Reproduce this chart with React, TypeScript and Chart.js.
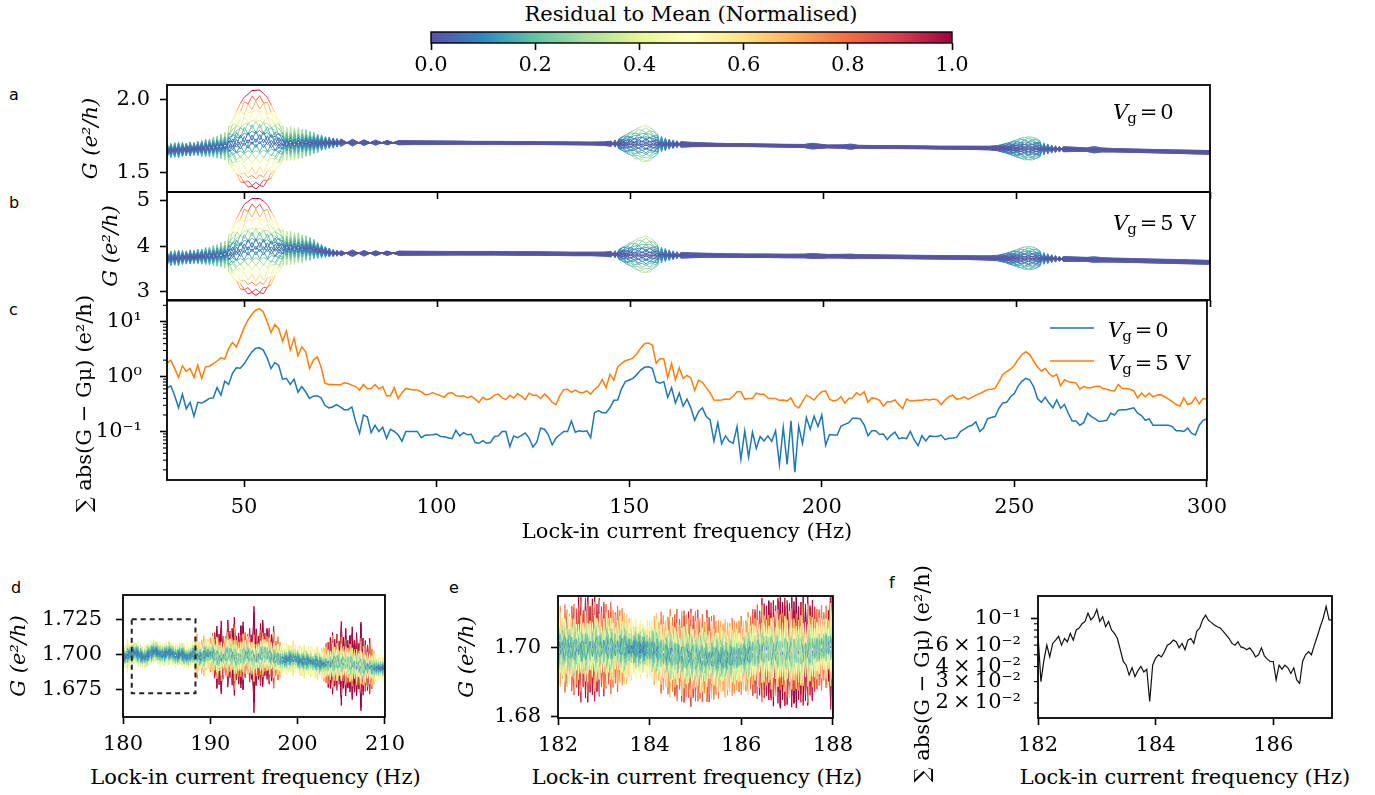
import React, { useEffect, useRef } from 'react';
import { Chart, registerables } from 'chart.js';
Chart.register(...registerables);

const SERIF = "'DejaVu Serif', serif";
const SANS = "'DejaVu Sans', sans-serif";
const FS = 21;

// ---------------- DATA ----------------
// panel c: summed absolute residual, 1 Hz grid from 30 Hz
const FREQ_C_START = 30;
const FREQ_C_STEP = 1;
const SUM_V0 = [
  0.62,0.68,0.45,0.27,0.48,0.26,0.34,0.19,0.34,0.33,
  0.36,0.40,0.41,0.63,0.46,0.83,0.72,1.15,1.45,1.42,
  1.7,2.2,2.8,3.3,3.35,3.05,2.2,1.4,1.8,1.6,
  0.9,0.93,0.72,0.9,0.52,0.66,0.53,0.40,0.44,0.45,
  0.41,0.30,0.27,0.28,0.31,0.28,0.25,0.25,0.28,0.15,
  0.093,0.20,0.185,0.095,0.13,0.10,0.12,0.075,0.11,0.10,
  0.087,0.066,0.10,0.10,0.10,0.10,0.077,0.085,0.086,0.087,
  0.09,0.081,0.08,0.077,0.074,0.105,0.083,0.095,0.087,0.089,
  0.063,0.061,0.068,0.061,0.063,0.081,0.083,0.1,0.1,0.053,
  0.083,0.077,0.084,0.094,0.076,0.052,0.064,0.115,0.11,0.087,
  0.057,0.076,0.087,0.10,0.1,0.155,0.097,0.103,0.10,0.103,
  0.077,0.22,0.24,0.22,0.22,0.27,0.37,0.375,0.6,0.81,
  0.87,0.93,1.1,1.32,1.48,1.52,1.42,0.81,0.76,0.81,
  0.42,0.63,0.33,0.5,0.29,0.39,0.27,0.16,0.23,0.27,
  0.187,0.163,0.067,0.144,0.06,0.083,0.066,0.061,0.123,0.031,
  0.103,0.034,0.097,0.049,0.081,0.067,0.083,0.066,0.103,0.025,
  0.118,0.025,0.156,0.018,0.126,0.06,0.18,0.11,0.19,0.123,
  0.2,0.056,0.088,0.086,0.086,0.126,0.135,0.145,0.175,0.175,
  0.17,0.132,0.084,0.103,0.103,0.088,0.09,0.071,0.086,0.097,
  0.074,0.077,0.074,0.1,0.07,0.055,0.084,0.067,0.083,0.081,
  0.081,0.086,0.071,0.075,0.076,0.078,0.1,0.11,0.123,0.13,
  0.15,0.10,0.115,0.17,0.18,0.187,0.265,0.33,0.34,0.43,
  0.49,0.68,0.83,0.93,0.87,0.66,0.40,0.34,0.42,0.33,
  0.27,0.375,0.265,0.31,0.215,0.155,0.155,0.13,0.145,0.215,
  0.187,0.17,0.152,0.155,0.16,0.215,0.2,0.245,0.25,0.25,
  0.26,0.27,0.215,0.195,0.16,0.17,0.13,0.13,0.13,0.13,
  0.13,0.123,0.103,0.103,0.1,0.115,0.093,0.086,0.13,0.16,
  0.17
];
const SUM_V5 = [
  1.75,2.0,1.4,0.97,1.58,1.26,1.41,0.97,1.62,0.93,
  1.51,1.55,1.72,1.93,2.2,2.1,3.27,4.2,3.5,5.1,
  7.8,10.7,13.6,16.3,17.4,15.2,10,6.4,8.9,7.5,
  4.45,6.8,3.05,5.0,2.4,3.5,2.85,1.41,2.0,2.3,
  1.5,0.76,0.72,0.72,0.71,0.71,0.77,0.75,0.70,0.66,
  0.57,0.72,0.60,0.61,0.72,0.60,0.66,0.45,0.45,0.63,
  0.40,0.51,0.61,0.59,0.57,0.57,0.53,0.47,0.48,0.51,
  0.48,0.45,0.42,0.50,0.51,0.45,0.44,0.45,0.41,0.44,
  0.39,0.34,0.42,0.38,0.40,0.46,0.48,0.41,0.38,0.46,
  0.41,0.49,0.44,0.38,0.50,0.46,0.46,0.40,0.48,0.42,
  0.34,0.31,0.45,0.58,0.59,0.52,0.57,0.52,0.51,0.55,
  0.48,0.59,0.66,0.89,0.63,1.1,0.87,1.5,1.75,1.95,
  2.05,2.2,2.65,3.35,4.0,4.1,3.75,1.75,2.15,2.1,
  0.96,1.75,0.87,1.45,0.93,1.05,0.95,0.56,0.86,0.79,
  0.63,0.51,0.375,0.37,0.375,0.39,0.385,0.44,0.53,0.53,
  0.39,0.40,0.40,0.50,0.48,0.48,0.41,0.40,0.40,0.37,
  0.375,0.36,0.41,0.30,0.27,0.35,0.46,0.42,0.375,0.46,
  0.53,0.55,0.39,0.36,0.375,0.43,0.33,0.40,0.41,0.51,
  0.46,0.53,0.34,0.41,0.40,0.37,0.29,0.35,0.35,0.375,
  0.31,0.26,0.39,0.36,0.365,0.37,0.37,0.385,0.375,0.39,
  0.375,0.31,0.375,0.43,0.46,0.39,0.40,0.43,0.39,0.42,
  0.46,0.49,0.53,0.58,0.59,0.61,0.81,1.1,1.23,1.37,
  1.62,2.06,2.54,2.85,2.5,1.93,1.5,1.27,1.41,1.14,
  1.0,1.1,0.68,0.88,0.81,0.79,0.77,0.59,0.66,0.63,
  0.63,0.66,0.67,0.61,0.59,0.56,0.55,0.72,0.61,0.61,
  0.59,0.55,0.41,0.5,0.43,0.5,0.43,0.46,0.47,0.43,
  0.39,0.35,0.31,0.29,0.41,0.31,0.33,0.42,0.32,0.40,
  0.39
];

// panels a, b: mean conductance and two deviation profiles at sampled frequencies
const FREQ_AB = [
  30,31,32,33,34,35,36,37,38,39,40,41,42,43,44,45,46,47,48,49,50,51,52,53,54,55,56,57,58,59,60,61,62,63,64,65,66,67,68,69,70,71,72,73,74,75,
  78,81,84,87,90,95,100,105,110,115,120,125,130,135,140,143,
  145,146,147,148,149,150,151,152,153,154,155,156,157,158,159,160,161,162,163,
  166,170,175,180,185,190,195,197,199,201,205,207,209,215,220,225,230,236,240,243,
  245,246,247,248,249,250,251,252,253,254,255,256,257,258,259,260,261,262,
  265,268,270,272,275,280,285,290,295,300
];
const MEAN_A = [
  1.648,1.650,1.652,1.653,1.655,1.657,1.658,1.660,1.662,1.664,1.666,1.668,1.670,1.673,1.676,1.680,1.685,1.690,1.697,1.705,
  1.712,1.718,1.722,1.725,1.725,1.722,1.718,1.712,1.706,1.700,1.698,1.697,1.697,1.697,1.698,1.698,1.699,1.699,1.700,1.700,
  1.701,1.701,1.702,1.702,1.702,1.703,
  1.703,1.703,1.703,1.703,1.703,1.703,1.703,1.703,1.702,1.702,1.701,1.700,1.699,1.698,1.697,1.696,
  1.696,1.696,1.695,1.695,1.695,1.695,1.694,1.694,1.694,1.694,1.694,1.693,1.693,1.693,1.692,1.692,1.692,1.692,1.691,
  1.690,1.689,1.687,1.686,1.684,1.682,1.680,1.679,1.678,1.677,1.676,1.675,1.675,1.673,1.672,1.671,1.669,1.668,1.667,1.666,
  1.665,1.665,1.664,1.664,1.663,1.663,1.663,1.662,1.662,1.662,1.661,1.661,1.660,1.660,1.659,1.659,1.658,1.658,
  1.657,1.655,1.654,1.653,1.651,1.648,1.645,1.642,1.639,1.636
];
const DEV_A = [
  0.058,-0.05,0.052,-0.055,0.05,-0.045,0.05,-0.045,0.05,-0.055,0.06,-0.062,0.068,-0.075,0.085,-0.095,0.13,0.17,0.22,0.27,
  0.30,0.32,0.335,0.34,0.335,0.32,0.29,0.25,0.20,0.16,0.12,-0.115,0.12,-0.115,0.11,-0.10,0.095,-0.085,0.075,-0.065,
  0.055,-0.045,0.04,-0.035,0.03,-0.027,
  0.024,-0.02,0.018,-0.016,0.015,0.013,0.012,0.011,0.01,0.01,0.01,0.01,0.01,0.01,0.01,0.012,
  0.018,-0.025,0.035,0.05,0.065,0.08,0.095,0.11,0.12,0.125,0.115,0.095,0.07,-0.055,0.045,-0.035,0.03,-0.025,0.02,
  0.015,0.012,0.01,0.01,0.01,0.01,0.011,0.02,0.015,0.01,0.012,0.018,0.01,0.01,0.01,0.01,0.01,0.011,0.012,0.013,
  0.018,0.025,0.032,0.04,0.05,0.06,0.07,0.076,0.08,0.078,0.07,0.055,-0.042,0.035,-0.028,0.024,-0.02,0.018,
  0.015,0.012,0.022,0.014,0.012,0.012,0.012,0.012,0.013,0.013
];
const DEV_A2 = [
  0.01,-0.01,0.01,-0.01,0.01,-0.01,0.01,-0.01,0.015,-0.015,
  0.02,-0.025,0.03,-0.035,0.04,-0.045,0.05,-0.05,0.055,-0.055,
  0.06,-0.06,0.06,-0.06,0.06,-0.06,0.06,-0.055,0.05,-0.05,
  0.045,-0.04,0.035,-0.03,0.03,-0.025,0.02,-0.02,0.015,-0.012,
  0.01,-0.008,0.006,-0.005,0.004,-0.003,
  0.003,-0.003,0,0,0,0,0,0,0,0,0,0,0,0,0,0.003,
  -0.005,0.008,-0.012,0.015,-0.018,0.02,-0.022,0.022,-0.022,0.022,-0.02,0.018,-0.015,0.012,-0.01,0.008,-0.006,0.004,-0.003,
  0,0,0,0,0,0,0,0.006,0,0,0,0.005,0,0,0,0,0,0,0,0,
  0.004,-0.006,0.008,-0.01,0.012,-0.014,0.015,-0.015,0.015,-0.015,0.014,-0.012,0.01,-0.008,0.006,-0.005,0.004,-0.003,
  0,0,0.006,0,0,0,0,0,0,0
];
const MEAN_B = [
  3.73,3.735,3.74,3.745,3.75,3.755,3.76,3.765,3.77,3.775,3.78,3.785,3.79,3.80,3.81,3.82,
  3.84,3.86,3.89,3.92,3.95,3.97,3.98,3.985,3.98,3.975,3.97,3.965,3.96,3.96,
  3.96,3.96,3.96,3.958,3.955,3.952,3.95,3.945,3.93,3.91,3.89,3.875,3.86,3.85,3.845,3.845,
  3.845,3.845,3.845,3.845,3.845,3.845,3.845,3.845,3.845,3.845,3.84,3.84,3.835,3.83,3.83,3.825,
  3.825,3.82,3.82,3.82,3.815,3.815,3.815,3.81,3.81,3.81,3.81,3.81,3.805,3.805,3.805,3.80,3.80,3.80,3.80,
  3.80,3.80,3.795,3.79,3.79,3.785,3.785,3.785,3.78,3.78,3.78,3.775,3.775,3.77,3.765,3.76,3.755,3.75,3.745,3.74,
  3.74,3.74,3.738,3.736,3.735,3.735,3.735,3.735,3.735,3.735,3.73,3.73,3.73,3.728,3.726,3.724,3.722,3.72,
  3.715,3.71,3.705,3.70,3.695,3.685,3.675,3.665,3.655,3.645
];
const DEV_B = [
  0.19,-0.17,0.17,-0.18,0.16,-0.15,0.16,-0.15,0.16,-0.17,0.19,-0.2,0.22,-0.24,0.27,-0.3,
  0.42,0.55,0.70,0.86,0.96,1.02,1.06,1.07,1.06,1.02,0.93,0.80,0.64,0.51,
  0.40,-0.38,0.38,-0.36,0.34,-0.31,0.28,-0.26,0.22,-0.18,0.15,-0.12,0.10,-0.08,0.07,-0.06,
  0.075,-0.065,0.058,-0.052,0.048,0.045,0.042,0.04,0.04,0.04,0.04,0.04,0.04,0.04,0.04,0.045,
  0.06,-0.08,0.11,0.16,0.21,0.26,0.31,0.36,0.39,0.41,0.38,0.31,0.23,-0.18,0.15,-0.12,0.10,-0.08,0.065,
  0.055,0.045,0.04,0.04,0.04,0.04,0.042,0.055,0.05,0.04,0.042,0.05,0.04,0.04,0.04,0.04,0.04,0.042,0.045,0.05,
  0.06,0.08,0.10,0.13,0.16,0.19,0.22,0.245,0.255,0.25,0.22,0.17,-0.13,0.11,-0.09,0.075,-0.06,0.055,
  0.05,0.045,0.06,0.05,0.045,0.045,0.045,0.045,0.045,0.045
];
const DEV_B2 = [
  0.03,-0.03,0.03,-0.03,0.03,-0.03,0.03,-0.03,0.05,-0.05,
  0.065,-0.08,0.1,-0.11,0.13,-0.14,0.16,-0.16,0.18,-0.18,
  0.19,-0.19,0.19,-0.19,0.19,-0.19,0.19,-0.18,0.16,-0.16,
  0.14,-0.13,0.11,-0.1,0.1,-0.08,0.065,-0.065,0.05,-0.04,
  0.03,-0.025,0.02,-0.016,0.013,-0.01,
  0.01,-0.01,0,0,0,0,0,0,0,0,0,0,0,0,0,0.01,
  -0.016,0.026,-0.04,0.05,-0.058,0.065,-0.07,0.07,-0.07,0.07,-0.065,0.058,-0.05,0.04,-0.032,0.026,-0.02,0.013,-0.01,
  0,0,0,0,0,0,0,0.02,0,0,0,0.016,0,0,0,0,0,0,0,0,
  0.013,-0.02,0.026,-0.032,0.04,-0.045,0.048,-0.048,0.048,-0.048,0.045,-0.04,0.032,-0.026,0.02,-0.016,0.013,-0.01,
  0,0,0.02,0,0,0,0,0,0,0
];
// relative weights of each measured curve on the two deviation profiles
const LINE_W = [0.02,-0.04,0.08,-0.1,0.15,-0.17,0.22,-0.25,0.3,-0.33,0.38,-0.42,0.47,-0.52,0.58,-0.63,0.7,-0.76,0.84,-0.9,1.0,-0.97];
const LINE_V = [0.45,-0.3,-0.5,0.35,0.2,-0.45,0.5,-0.15,-0.4,0.3,0.1,-0.35,0.45,-0.25,-0.1,0.4,-0.45,0.2,0.3,-0.2,0.05,0.15];

// panel d: 0.25 Hz grid from 180 Hz
const FREQ_D_START = 180;
const FREQ_D_STEP = 0.25;
const MEAN_D = [
  1.697,1.698,1.699,1.700,1.700,
  1.701,1.701,1.700,1.699,1.698,1.698,1.699,1.700,1.701,1.702,1.702,1.701,1.700,1.700,1.700,1.701,1.701,1.701,1.700,1.699,1.699,1.700,1.700,1.699,1.698,1.698,1.699,1.700,
  1.700,1.699,1.698,1.698,1.699,1.700,1.700,
  1.700,1.700,1.699,1.698,1.697,1.697,1.698,1.699,1.700,1.700,1.699,1.698,1.697,1.697,1.698,1.699,1.700,1.700,1.699,1.698,1.697,1.697,1.698,1.699,1.700,1.700,1.700,1.699,1.698,1.697,1.697,1.697,1.696,
  1.696,1.696,1.696,1.697,1.697,1.697,1.697,1.696,1.695,1.695,1.695,1.695,1.695,1.695,1.694,1.694,1.694,1.693,1.693,1.693,
  1.693,1.693,1.693,1.694,1.694,1.694,1.694,1.694,1.694,1.694,1.693,1.693,1.693,1.692,1.692,1.692,1.692,1.691,1.691,1.691,1.691,1.690,1.690,1.690,
  1.690,1.690,1.690,1.691
];
const DEV_D = [
  0.010,-0.008,0.012,-0.009,0.010,
  -0.008,0.007,-0.009,0.008,-0.007,0.009,-0.008,0.007,-0.008,0.009,-0.007,0.008,-0.009,0.007,-0.008,0.008,-0.009,0.007,-0.008,0.009,-0.007,0.008,-0.008,0.009,-0.007,0.010,-0.008,0.009,
  -0.012,0.016,-0.010,0.012,-0.014,0.011,-0.010,
  0.012,-0.014,0.016,-0.022,0.018,-0.026,0.015,-0.012,0.024,-0.016,0.020,-0.028,0.014,-0.018,0.022,-0.024,0.016,-0.013,0.019,-0.015,0.038,-0.020,0.015,-0.022,0.024,-0.014,0.018,-0.020,0.016,-0.022,0.012,-0.015,0.012,
  -0.010,0.009,-0.011,0.010,-0.009,0.012,-0.010,0.009,-0.011,0.010,-0.012,0.009,-0.010,0.011,-0.009,0.010,-0.012,0.010,-0.011,0.012,
  -0.014,0.016,-0.018,0.022,-0.016,0.020,-0.014,0.030,-0.018,0.024,-0.016,0.020,-0.026,0.018,-0.022,0.016,-0.032,0.020,-0.018,0.016,-0.020,0.014,-0.012,0.010,
  -0.009,0.008,-0.009,0.008
];
const DEV_D2 = [
  0.004,0.005,-0.004,-0.005,0.004,
  0.005,-0.004,-0.005,0.004,0.006,-0.005,0.004,0.005,-0.006,-0.004,0.005,0.004,-0.005,0.006,-0.004,-0.005,0.005,0.004,-0.006,0.005,-0.004,-0.005,0.006,0.004,-0.005,0.004,-0.006,0.005,
  0.006,-0.008,0.007,0.006,-0.009,-0.006,0.008,
  -0.008,0.010,0.009,-0.012,-0.010,0.011,-0.009,0.013,0.010,-0.011,-0.012,0.009,0.014,-0.010,0.012,-0.013,-0.009,0.011,0.010,-0.012,-0.014,0.012,-0.010,0.011,0.009,-0.013,0.010,-0.009,-0.011,0.012,0.008,-0.010,0.009,
  -0.006,0.005,0.006,-0.005,-0.006,0.007,-0.005,0.006,0.005,-0.006,-0.005,0.007,0.006,-0.005,0.006,-0.007,-0.005,0.006,0.005,-0.006,
  0.008,-0.010,0.011,-0.009,-0.012,0.010,0.013,-0.011,-0.010,0.012,-0.013,0.011,0.010,-0.012,0.014,-0.010,-0.011,0.012,0.009,-0.010,0.008,-0.009,0.007,-0.006,
  0.005,-0.004,0.005,-0.004
];
const BOX_D_X = [181, 188.3, 188.3, 181, 181];
const BOX_D_Y = [1.725, 1.725, 1.672, 1.672, 1.725];

// panel e: 0.05 Hz grid from 182 Hz
const FREQ_E_START = 182;
const FREQ_E_STEP = 0.05;
const MEAN_E = [
  1.7000,1.7000,1.6998,1.6998,1.6996,1.6996,1.6996,1.6996,1.6997,1.6997,1.6998,
  1.6998,1.6998,1.6999,1.6999,1.6999,1.6999,1.6999,1.6999,1.6999,1.6999,
  1.6999,1.7000,1.7000,1.7000,1.7000,1.7000,1.7000,1.7000,1.6999,1.6998,
  1.6997,1.6997,1.6996,1.6996,1.6996,1.6996,1.6995,1.6995,1.6995,1.6995,
  1.6994,1.6992,1.6990,1.6988,1.6986,1.6984,1.6982,1.6981,1.6980,1.6979,
  1.6978,1.6977,1.6976,1.6976,1.6975,1.6975,1.6975,1.6974,1.6974,1.6973,
  1.6972,1.6971,1.6970,1.6970,1.6970,1.6970,1.6970,1.6970,1.6970,1.6970,
  1.6970,1.6970,1.6970,1.6970,1.6971,1.6972,1.6973,1.6974,1.6975,1.6977,
  1.6978,1.6980,1.6982,1.6984,1.6986,1.6987,1.6988,1.6989,1.6990,1.6990,
  1.6992,1.6991,1.6990,1.6990,1.6989,1.6989,1.6989,1.6988,1.6988,1.6988,
  1.6987,1.6987,1.6986,1.6986,1.6986,1.6986,1.6987,1.6988,1.6989,1.6990,
  1.6992,1.6994,1.6996,1.6998,1.7000,1.7002,1.7003,1.7004,1.7005,1.7005
];
const DEV_E = [
  0.010,-0.011,0.008,-0.012,0.011,-0.009,0.012,-0.013,0.010,-0.014,0.015,
  -0.011,0.014,-0.016,0.012,-0.013,0.015,-0.012,0.014,-0.011,0.013,
  -0.012,0.010,-0.013,0.011,-0.009,0.012,-0.010,0.011,-0.009,0.010,
  -0.008,0.009,-0.007,0.008,-0.006,0.008,-0.007,0.006,-0.008,0.007,
  -0.008,0.009,-0.010,0.008,-0.011,0.010,-0.009,0.011,-0.012,0.010,
  -0.011,0.013,-0.010,0.012,-0.013,0.011,-0.012,0.014,-0.011,0.012,
  -0.013,0.011,-0.012,0.010,-0.013,0.012,-0.011,0.012,-0.010,0.011,
  -0.010,0.009,-0.011,0.010,-0.009,0.011,-0.010,0.009,-0.010,0.011,
  -0.009,0.010,-0.011,0.010,-0.012,0.011,-0.013,0.012,-0.014,0.013,
  -0.012,0.014,-0.013,0.015,-0.012,0.014,-0.016,0.013,-0.015,0.014,
  -0.013,0.015,-0.014,0.016,-0.012,0.014,-0.015,0.013,-0.016,0.012,
  -0.014,0.012,-0.011,0.010,-0.012,0.009,-0.011,0.010,-0.018,0.008
];
const DEV_E2 = [
  0.006,0.008,-0.007,-0.009,0.005,0.009,0.007,-0.006,-0.010,0.008,
  -0.007,-0.005,0.009,0.006,-0.008,0.010,-0.006,-0.009,0.007,0.008,
  -0.009,0.006,0.008,-0.007,-0.006,0.009,-0.008,0.007,0.005,-0.009,
  -0.005,0.006,-0.004,0.005,0.006,-0.005,-0.006,0.004,0.005,-0.006,
  0.007,-0.006,-0.008,0.007,0.006,-0.009,0.008,-0.007,-0.006,0.009,
  0.008,-0.009,0.007,0.006,-0.010,-0.007,0.009,0.008,-0.006,-0.009,
  0.010,0.007,-0.008,-0.009,0.006,0.008,-0.007,0.009,0.006,-0.008,
  -0.007,0.006,0.008,-0.006,-0.007,0.008,0.006,-0.007,0.008,-0.006,
  0.007,-0.008,-0.006,0.009,0.007,-0.008,0.010,-0.009,-0.007,0.011,
  0.009,-0.010,0.008,-0.011,-0.009,0.010,0.012,-0.008,0.011,-0.010,
  -0.011,0.009,0.012,-0.010,0.008,-0.012,0.009,0.011,-0.010,0.008,
  0.010,-0.009,0.007,-0.008,0.009,-0.007,0.008,-0.009,0.006,-0.007,0.006
];

// panel f: 0.05 Hz grid from 182 Hz
const FREQ_F_START = 182;
const FREQ_F_STEP = 0.05;
const SUM_F = [
  0.073,0.030,0.045,0.06,0.048,0.062,0.066,0.071,0.060,0.068,
  0.064,0.075,0.066,0.08,0.083,0.09,0.094,0.11,0.097,0.103,
  0.118,0.094,0.103,0.085,0.094,0.08,0.075,0.068,0.055,0.044,
  0.041,0.034,0.039,0.033,0.037,0.04,0.036,0.038,0.0206,0.041,
  0.047,0.05,0.048,0.053,0.060,0.062,0.066,0.064,0.057,0.062,
  0.055,0.066,0.068,0.062,0.078,0.083,0.097,0.106,0.096,0.092,
  0.088,0.085,0.083,0.078,0.073,0.068,0.062,0.060,0.064,0.058,
  0.057,0.055,0.057,0.053,0.048,0.050,0.057,0.049,0.046,0.044,
  0.044,0.031,0.041,0.038,0.041,0.039,0.035,0.039,0.031,0.029,
  0.044,0.050,0.053,0.050,0.060,0.071,0.085,0.10,0.125,0.097,
  0.097
];

// ticks
const X_TICKS_MAIN = [50, 100, 150, 200, 250, 300];
const Y_TICKS_A = [1.5, 2.0];
const Y_TICKS_B = [3, 4, 5];
const C_MAJOR = [0.1, 1, 10];
const C_MAJOR_LABELS = ['10⁻¹', '10⁰', '10¹'];
const C_MINOR = [0.02,0.03,0.04,0.05,0.06,0.07,0.08,0.09,0.2,0.3,0.4,0.5,0.6,0.7,0.8,0.9,2,3,4,5,6,7,8,9,20];
const X_TICKS_D = [180, 190, 200, 210];
const Y_TICKS_D = [1.675, 1.7, 1.725];
const X_TICKS_E = [182, 184, 186, 188];
const Y_TICKS_E = [1.68, 1.7];
const X_TICKS_F = [182, 184, 186];
const F_MAJOR = [0.1];
const F_MINOR = [0.02,0.03,0.04,0.05,0.06,0.07,0.08,0.09];
const F_LABELED = [0.02, 0.03, 0.04, 0.06, 0.1];
const F_LABELS = ['2\u2009×\u200910⁻²', '3\u2009×\u200910⁻²', '4\u2009×\u200910⁻²', '6\u2009×\u200910⁻²', '10⁻¹'];
const CB_TICKS = [0, 0.2, 0.4, 0.6, 0.8, 1.0];

const NORM_A = 0.34;
const NORM_B = 1.07;
const NORM_D = 0.018;
const NORM_E = 0.014;

const X_TITLE = 'Lock-in current frequency (Hz)';
const SUM_TITLE = '∑ abs(G − Gμ) (e²/h)';

// ---------------- helpers ----------------
const SPECTRAL_R = ['#5e4fa2','#3288bd','#66c2a5','#abdda4','#e6f598','#ffffbf','#fee08b','#fdae61','#f46d43','#d53e4f','#9e0142'];
const SPEC_RGB = SPECTRAL_R.map((h) => [parseInt(h.slice(1, 3), 16), parseInt(h.slice(3, 5), 16), parseInt(h.slice(5, 7), 16)]);
function spectral(t: number): string {
  const c = Math.max(0, Math.min(1, t)) * 10;
  const i = Math.min(9, Math.floor(c));
  const f = c - i;
  const a = SPEC_RGB[i], b = SPEC_RGB[i + 1];
  return `rgb(${Math.round(a[0] + (b[0] - a[0]) * f)},${Math.round(a[1] + (b[1] - a[1]) * f)},${Math.round(a[2] + (b[2] - a[2]) * f)})`;
}
function grid(start: number, step: number, n: number): number[] {
  return Array.from({ length: n }, (_, k) => +(start + k * step).toFixed(4));
}
function near(v: number, list: number[]): number {
  return list.findIndex((x) => Math.abs(v - x) <= Math.abs(x) * 1e-6);
}

// one dataset per measured curve: mean + sum of weighted deviation profiles
function fanDatasets(xs: number[], mean: number[], devs: number[][], weights: number[][], norm: number) {
  return LINE_W.map((_, i) => {
    const dy = xs.map((__, k) => devs.reduce((s, d, j) => s + weights[j][i] * d[k], 0));
    const res = dy.map((v) => Math.abs(v) / norm);
    return {
      data: xs.map((x, k) => ({ x, y: mean[k] + dy[k] })),
      borderWidth: 1,
      pointRadius: 0,
      tension: 0,
      borderColor: spectral(0),
      segment: { borderColor: (ctx: any) => spectral((res[ctx.p0DataIndex] + res[ctx.p1DataIndex]) / 2) },
    };
  });
}

function axis(o: any) {
  return {
    type: o.type || 'linear',
    position: o.position,
    min: o.min,
    max: o.max,
    bounds: 'data',
    afterBuildTicks: (s: any) => { s.ticks = o.ticks.map((v: number) => ({ value: v })); },
    ticks: {
      autoSkip: false, maxRotation: 0, minRotation: 0,
      padding: o.pad ?? 8, color: '#000',
      font: { family: SERIF, size: FS },
      callback: (v: any) => (o.fmt ? o.fmt(Number(v)) : ''),
    },
    grid: {
      drawOnChartArea: false, drawTicks: true, tickLength: 7,
      tickColor: o.tickColor || '#000',
      tickWidth: 1.6,
    },
    border: { display: false },
    title: {
      display: !!o.title, text: o.title || '', color: '#000', padding: 0,
      font: { family: SERIF, size: FS, style: o.titleItalic ? 'italic' : 'normal' },
    },
  };
}

const framePlugin = {
  id: 'frame',
  afterDraw(chart: any) {
    const { ctx, chartArea: a } = chart;
    ctx.save();
    ctx.strokeStyle = '#000';
    ctx.lineWidth = 1.8;
    ctx.strokeRect(a.left, a.top, a.right - a.left, a.bottom - a.top);
    ctx.restore();
  },
};

// short minor tick marks on the left (log) axis
function minorTickPlugin(values: number[]) {
  return {
    id: 'minorTicks',
    afterDraw(chart: any) {
      const { ctx, chartArea: a } = chart;
      const s = chart.scales.y;
      ctx.save();
      ctx.strokeStyle = '#000';
      ctx.lineWidth = 1.1;
      values.forEach((v) => {
        const y = s.getPixelForValue(v);
        if (y < a.top - 0.5 || y > a.bottom + 0.5) return;
        ctx.beginPath();
        ctx.moveTo(a.left - 4, y);
        ctx.lineTo(a.left, y);
        ctx.stroke();
      });
      ctx.restore();
    },
  };
}

function drawVg(ctx: CanvasRenderingContext2D, x: number, cy: number, rest: string) {
  ctx.save();
  ctx.fillStyle = '#000';
  ctx.textBaseline = 'alphabetic';
  ctx.textAlign = 'left';
  const base = cy + FS * 0.36;
  ctx.font = `italic ${FS}px ${SERIF}`;
  ctx.fillText('V', x, base);
  let cx = x + ctx.measureText('V').width - 1;
  ctx.font = `${Math.round(FS * 0.7)}px ${SERIF}`;
  ctx.fillText('g', cx, base + FS * 0.2);
  cx += ctx.measureText('g').width + 3;
  ctx.font = `${FS}px ${SERIF}`;
  ctx.fillText('=', cx, base);
  cx += ctx.measureText('=').width + 3;
  ctx.fillText(rest, cx, base);
  ctx.restore();
}

function vgPlugin(items: any[], ox: number, oy: number) {
  return {
    id: 'vg',
    afterDraw(chart: any) {
      const ctx = chart.ctx;
      items.forEach((it) => {
        if (it.line) {
          ctx.save();
          ctx.strokeStyle = it.line;
          ctx.lineWidth = 1.5;
          ctx.beginPath();
          ctx.moveTo(it.lx0 - ox, it.y - oy);
          ctx.lineTo(it.lx1 - ox, it.y - oy);
          ctx.stroke();
          ctx.restore();
        }
        drawVg(ctx, it.x - ox, it.ty - oy, it.rest);
      });
    },
  };
}

const gradientPlugin = {
  id: 'grad',
  beforeDatasetsDraw(chart: any) {
    const { ctx, chartArea: a } = chart;
    const g = ctx.createLinearGradient(a.left, 0, a.right, 0);
    SPECTRAL_R.forEach((c, i) => g.addColorStop(i / 10, c));
    ctx.save();
    ctx.fillStyle = g;
    ctx.fillRect(a.left, a.top, a.right - a.left, a.bottom - a.top);
    ctx.lineWidth = 1.4;
    ctx.strokeStyle = '#000';
    ctx.strokeRect(a.left, a.top, a.right - a.left, a.bottom - a.top);
    ctx.restore();
  },
};

const COMMON = {
  responsive: false,
  animation: false,
  events: [],
  plugins: { legend: { display: false }, tooltip: { enabled: false }, title: { display: false } },
};

// ---------------- layout ----------------
type PanelDef = {
  area: number[]; yW: number; xH: number; pad: number[];
  make: (ox: number, oy: number) => any;
};

const NBSP4 = '\u00A0\u00A0\u00A0\u00A0';
const HIDE = 'rgba(0,0,0,0)';

const PANELS: PanelDef[] = [
  {
    area: [431, 32, 952, 43], yW: 0, xH: 40, pad: [25, 4, 25, 0],
    make: () => ({
      type: 'line',
      data: { datasets: [] },
      options: {
        ...COMMON,
        scales: {
          x: axis({ position: 'bottom', min: 0, max: 1, ticks: CB_TICKS, fmt: (v: number) => v.toFixed(1), pad: 3 }),
          y: { display: false, min: 0, max: 1 },
        },
      },
      plugins: [gradientPlugin],
    }),
  },
  {
    area: [167, 85, 1210, 192], yW: 88, xH: 8, pad: [0, 30, 25, 20],
    make: (ox, oy) => ({
      type: 'line',
      data: { datasets: fanDatasets(FREQ_AB, MEAN_A, [DEV_A, DEV_A2], [LINE_W, LINE_V], NORM_A) },
      options: {
        ...COMMON,
        scales: {
          x: axis({ position: 'bottom', min: 30, max: 300, ticks: X_TICKS_MAIN }),
          y: axis({ position: 'left', min: 1.365, max: 2.098, ticks: Y_TICKS_A, fmt: (v: number) => v.toFixed(1), pad: 10, title: 'G (e²/h)', titleItalic: true }),
        },
      },
      plugins: [framePlugin, vgPlugin([{ x: 1113, ty: 111, rest: '0' }], ox, oy)],
    }),
  },
  {
    area: [167, 192, 1210, 300], yW: 68, xH: 8, pad: [0, 30, 25, 20],
    make: (ox, oy) => ({
      type: 'line',
      data: { datasets: fanDatasets(FREQ_AB, MEAN_B, [DEV_B, DEV_B2], [LINE_W, LINE_V], NORM_B) },
      options: {
        ...COMMON,
        scales: {
          x: axis({ position: 'bottom', min: 30, max: 300, ticks: X_TICKS_MAIN }),
          y: axis({ position: 'left', min: 2.818, max: 5.191, ticks: Y_TICKS_B, fmt: (v: number) => String(Math.round(v)), pad: 10, title: 'G (e²/h)', titleItalic: true }),
        },
      },
      plugins: [framePlugin, vgPlugin([{ x: 1113, ty: 222, rest: '5 V' }], ox, oy)],
    }),
  },
  {
    area: [167, 300, 1210, 480], yW: 94, xH: 65, pad: [0, 30, 25, 10],
    make: (ox, oy) => {
      const xs = grid(FREQ_C_START, FREQ_C_STEP, SUM_V0.length);
      return {
        type: 'line',
        data: {
          datasets: [
            { data: xs.map((x, k) => ({ x, y: SUM_V0[k] })), borderColor: '#1f77b4', borderWidth: 1.5, pointRadius: 0, tension: 0 },
            { data: xs.map((x, k) => ({ x, y: SUM_V5[k] })), borderColor: '#ff7f0e', borderWidth: 1.5, pointRadius: 0, tension: 0 },
          ],
        },
        options: {
          ...COMMON,
          scales: {
            x: axis({ position: 'bottom', min: 30, max: 300, ticks: X_TICKS_MAIN, fmt: (v: number) => String(Math.round(v)), pad: 8, title: X_TITLE }),
            y: axis({
              type: 'logarithmic', position: 'left', min: 0.01303, max: 24.4,
              ticks: [...C_MAJOR, ...C_MINOR].sort((a, b) => a - b),
              fmt: (v: number) => { const i = near(v, C_MAJOR); return i >= 0 ? C_MAJOR_LABELS[i] : ''; },
              tickColor: (c: any) => (c.tick && near(c.tick.value, C_MAJOR) >= 0 ? '#000' : HIDE),
              pad: 18, title: SUM_TITLE + NBSP4, titleItalic: false,
            }),
          },
        },
        plugins: [framePlugin, minorTickPlugin(C_MINOR), vgPlugin([
          { x: 1108, ty: 329, rest: '0', line: '#1f77b4', lx0: 1050, lx1: 1094, y: 328 },
          { x: 1108, ty: 362, rest: '5 V', line: '#ff7f0e', lx0: 1050, lx1: 1094, y: 361 },
        ], ox, oy)],
      };
    },
  },
  {
    area: [123, 595, 388, 717], yW: 116, xH: 72, pad: [0, 30, 25, 4],
    make: () => {
      const xs = grid(FREQ_D_START, FREQ_D_STEP, MEAN_D.length);
      return {
        type: 'line',
        data: {
          datasets: [
            { data: BOX_D_X.map((x, k) => ({ x, y: BOX_D_Y[k] })), borderColor: '#222', borderWidth: 2, borderDash: [5, 4], pointRadius: 0, tension: 0 },
            ...fanDatasets(xs, MEAN_D, [DEV_D, DEV_D2], [LINE_W, LINE_V], NORM_D),
          ],
        },
        options: {
          ...COMMON,
          scales: {
            x: axis({ position: 'bottom', min: 180, max: 210, ticks: X_TICKS_D, fmt: (v: number) => String(Math.round(v)), pad: 8 }),
            y: axis({ position: 'left', min: 1.655, max: 1.7424, ticks: Y_TICKS_D, fmt: (v: number) => v.toFixed(3), pad: 14, title: 'G (e²/h)', titleItalic: true }),
          },
        },
        plugins: [framePlugin],
      };
    },
  },
  {
    area: [558, 596, 836, 718], yW: 103, xH: 72, pad: [0, 30, 25, 4],
    make: () => {
      const xs = grid(FREQ_E_START, FREQ_E_STEP, MEAN_E.length);
      return {
        type: 'line',
        data: { datasets: fanDatasets(xs, MEAN_E, [DEV_E, DEV_E2], [LINE_W, LINE_V], NORM_E) },
        options: {
          ...COMMON,
          scales: {
            x: axis({ position: 'bottom', min: 182, max: 188, ticks: X_TICKS_E, fmt: (v: number) => String(Math.round(v)), pad: 8 }),
            y: axis({ position: 'left', min: 1.6797, max: 1.7148, ticks: Y_TICKS_E, fmt: (v: number) => v.toFixed(2), pad: 10, title: 'G (e²/h)', titleItalic: true }),
          },
        },
        plugins: [framePlugin],
      };
    },
  },
  {
    area: [1038, 596, 1332, 718], yW: 127, xH: 72, pad: [0, 60, 25, 4],
    make: () => {
      const xs = grid(FREQ_F_START, FREQ_F_STEP, SUM_F.length);
      return {
        type: 'line',
        data: { datasets: [{ data: xs.map((x, k) => ({ x, y: SUM_F[k] })), borderColor: '#111', borderWidth: 1.2, pointRadius: 0, tension: 0 }] },
        options: {
          ...COMMON,
          scales: {
            x: axis({ position: 'bottom', min: 182, max: 187, ticks: X_TICKS_F, fmt: (v: number) => String(Math.round(v)), pad: 8 }),
            y: axis({
              type: 'logarithmic', position: 'left', min: 0.01505, max: 0.1525, ticks: [...F_MINOR, ...F_MAJOR],
              fmt: (v: number) => { const i = near(v, F_LABELED); return i >= 0 ? F_LABELS[i] : ''; },
              tickColor: (c: any) => (c.tick && near(c.tick.value, F_MAJOR) >= 0 ? '#000' : HIDE),
              pad: 10, title: SUM_TITLE + NBSP4 + '\u00A0',
            }),
          },
        },
        plugins: [framePlugin, minorTickPlugin(F_MINOR)],
      };
    },
  },
];

function ChartPanel({ def }: { def: PanelDef }) {
  const ref = useRef<HTMLCanvasElement>(null);
  const [L, T, R, B] = def.area;
  const [pl, pt, pr, pb] = def.pad;
  const left = L - def.yW - pl;
  const top = T - pt;
  const width = pl + def.yW + (R - L) + pr;
  const height = pt + (B - T) + def.xH + pb;
  useEffect(() => {
    const cfg = def.make(left, top);
    cfg.options.layout = { padding: { left: pl, top: pt, right: pr, bottom: pb } };
    const xH = def.xH, yW = def.yW;
    cfg.options.scales.x.afterFit = (s: any) => { s.height = xH; };
    if (yW > 0) cfg.options.scales.y.afterFit = (s: any) => { s.width = yW; };
    const chart = new Chart(ref.current as HTMLCanvasElement, cfg);
    return () => chart.destroy();
  }, []);
  return (
    <canvas
      ref={ref}
      width={width}
      height={height}
      style={{ position: 'absolute', left, top, width, height }}
    />
  );
}

const LETTERS = [
  { t: 'a', x: 9, b: 100 },
  { t: 'b', x: 9, b: 208 },
  { t: 'c', x: 9, b: 315 },
  { t: 'd', x: 11, b: 593 },
  { t: 'e', x: 449, b: 593 },
  { t: 'f', x: 889, b: 588 },
];

// x-axis titles of the lower panels (centre x of each axis)
const LOWER_TITLES = [255.5, 697, 1185];

export default function App() {
  return (
    <div style={{ position: 'absolute', left: 0, top: 0, width: 1375, height: 795, background: '#fff', overflow: 'hidden' }}>
      <div style={{ position: 'absolute', left: 391, top: 2, width: 600, textAlign: 'center', fontFamily: SERIF, fontSize: FS, lineHeight: '25px', color: '#000' }}>
        Residual to Mean (Normalised)
      </div>
      {LETTERS.map((l) => (
        <div key={l.t} style={{ position: 'absolute', left: l.x, top: l.b - 13.5, fontFamily: SANS, fontSize: 16, lineHeight: '16px', color: '#000' }}>
          {l.t}
        </div>
      ))}
      {LOWER_TITLES.map((cx, i) => (
        <div key={'t' + i} style={{ position: 'absolute', left: cx - 250, top: 764.5, width: 500, textAlign: 'center', fontFamily: SERIF, fontSize: FS, lineHeight: '25px', color: '#000', whiteSpace: 'nowrap' }}>
          {X_TITLE}
        </div>
      ))}
      {PANELS.map((p, i) => (
        <ChartPanel key={i} def={p} />
      ))}
    </div>
  );
}
